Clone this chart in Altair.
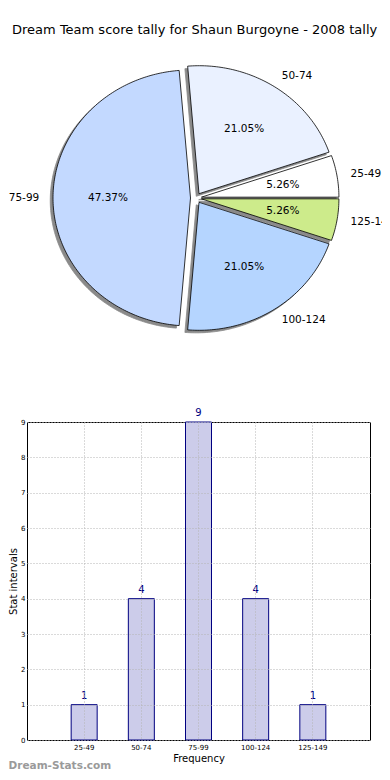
import altair as alt
import numpy as np
import pandas as pd

# ---------------- data ----------------
categories = ['25-49', '50-74', '75-99', '100-124', '125-149']
counts = [1, 4, 9, 4, 1]
slice_colors = ['#ffffff', '#eaf1ff', '#c3d9ff', '#b5d5ff', '#cdeb8b']
y_ticks = list(range(10))
title_text = 'Dream Team score tally for Shaun Burgoyne - 2008 tally'
x_title = 'Frequency'
y_title = 'Stat intervals'
watermark = 'Dream-Stats.com'

# ---------------- style / layout ----------------
FONT = 'DejaVu Sans'
EXPLODE = 0.04
SHADOW = 0.02
LABEL_DIST = 1.1
PCT_DIST = 0.6

P = 27            # page x of plot left edge
CX, CY = 196.0, 198.0
RX, RY = 137.5, 128.0
T, B = 47.0, 401.0   # page y of pie view top/bottom
WP = 382 - P
HP = B - T
WB = 370 - P
HB = 318

total = sum(counts)
poly, shadow, labels = [], [], []
a0 = 0.0
for cat, c in zip(categories, counts):
    frac = c / total
    a1 = a0 + frac * 2 * np.pi
    mid = (a0 + a1) / 2
    ox, oy = EXPLODE * np.cos(mid), EXPLODE * np.sin(mid)
    n = max(2, int(np.ceil(np.degrees(a1 - a0))))
    angs = np.linspace(a0, a1, n + 1)
    pts = [(ox, oy)] + [(ox + np.cos(t), oy + np.sin(t)) for t in angs] + [(ox, oy)]
    for k, (px, py) in enumerate(pts):
        poly.append(dict(cat=cat, i=k, x=px, y=py))
        shadow.append(dict(cat=cat, i=k, x=px - SHADOW, y=py - SHADOW))
    lx = ox + LABEL_DIST * np.cos(mid)
    labels.append(dict(cat=cat, lx=lx, ly=oy + LABEL_DIST * np.sin(mid),
                       px=ox + PCT_DIST * np.cos(mid), py=oy + PCT_DIST * np.sin(mid),
                       pct=f"{frac * 100:.2f}%", side='L' if lx > 0 else 'R'))
    a0 = a1

poly_df = pd.DataFrame(poly)
shadow_df = pd.DataFrame(shadow)
lab_df = pd.DataFrame(labels)

xdom = [-(CX - P) / RX, (WP - (CX - P)) / RX]
ydom = [-(B - CY) / RY, (CY - T) / RY]
xs = alt.Scale(domain=xdom, nice=False, zero=False)
ys = alt.Scale(domain=ydom, nice=False, zero=False)

def X(f):
    return alt.X(f, type='quantitative', scale=xs, axis=None)

def Y(f):
    return alt.Y(f, type='quantitative', scale=ys, axis=None)

shadow_layer = alt.Chart(shadow_df).mark_line(
    fill='#8a8a8a', stroke='#8a8a8a', strokeWidth=0.8, strokeJoin='miter'
).encode(x=X('x'), y=Y('y'), detail='cat:N', order='i:Q')

slice_layer = alt.Chart(poly_df).mark_line(
    stroke='#000000', strokeWidth=0.8, strokeJoin='miter'
).encode(
    x=X('x'), y=Y('y'), detail='cat:N', order='i:Q',
    fill=alt.Fill('cat:N', scale=alt.Scale(domain=categories, range=slice_colors), legend=None),
)

lab_left = alt.Chart(lab_df).transform_filter(alt.datum.side == 'L').mark_text(
    align='left', baseline='middle', font=FONT, fontSize=10.5, color='#000000', clip=True
).encode(x=X('lx'), y=Y('ly'), text='cat:N')

lab_right = alt.Chart(lab_df).transform_filter(alt.datum.side == 'R').mark_text(
    align='right', baseline='middle', font=FONT, fontSize=10.5, color='#000000'
).encode(x=X('lx'), y=Y('ly'), text='cat:N')

pct = alt.Chart(lab_df).mark_text(
    align='center', baseline='middle', font=FONT, fontSize=10.5, color='#000000'
).encode(x=X('px'), y=Y('py'), text='pct:N')

pie = alt.layer(shadow_layer, slice_layer, lab_left, lab_right, pct).properties(
    width=WP, height=HP, view=alt.ViewBackground(strokeOpacity=0)
)

# ---------------- bar chart ----------------
bar_df = pd.DataFrame(dict(cat=categories, count=counts))
step = WB / 6.0
pin = 1 - 26.0 / step
pout = (1 + pin) / 2

grid_kw = dict(grid=True, gridDash=[1, 2], gridColor='#b4b4b4', gridWidth=1)
xenc = alt.X('cat:N', sort=categories, title=x_title,
             scale=alt.Scale(paddingInner=pin, paddingOuter=pout),
             axis=alt.Axis(labelAngle=0, labelFontSize=7, labelFont=FONT, labelColor='#000000',
                           ticks=False, domain=False, bandPosition=0.5, labelPadding=3,
                           labelOverlap=False,
                           titleFontSize=10, titleFont=FONT, titleFontWeight='normal',
                           titleColor='#000000', titlePadding=3, zindex=1, **grid_kw))
yenc = alt.Y('count:Q', title=y_title, scale=alt.Scale(domain=[0, 9], nice=False),
             axis=alt.Axis(values=y_ticks, tickCount=10, labelOverlap=False,
                           labelFontSize=7, labelFont=FONT, labelColor='#000000',
                           ticks=False, domain=False, labelPadding=2,
                           titleFontSize=10, titleFont=FONT, titleFontWeight='normal',
                           titleColor='#000000', titlePadding=2, zindex=1, **grid_kw))

base = alt.Chart(bar_df).encode(x=xenc, y=yenc)
bars = base.mark_bar(fill='#ccccea', stroke='#000080', strokeWidth=1)
bar_text = base.mark_text(
    baseline='bottom', dy=-4, color='#000080', font=FONT, fontSize=10
).encode(text='count:Q')

bar_view = alt.layer(bars, bar_text).properties(
    width=WB, height=HB,
    view=alt.ViewBackground(stroke='#000000', strokeWidth=1),
    title=alt.TitleParams(watermark, orient='bottom', anchor='start', fontSize=10.5,
                          font=FONT, fontWeight='bold', color='#9a9a9a', offset=-2),
)

chart = alt.vconcat(pie, bar_view, spacing=6).properties(
    title=alt.TitleParams(title_text, anchor='start', dx=4, fontSize=13, font=FONT,
                          fontWeight='normal', color='#000000', offset=10),
    padding={'left': 0, 'top': 16, 'right': 0, 'bottom': 0},
)

chart.save('out.html', embed_options={'renderer': 'svg', 'actions': False})
